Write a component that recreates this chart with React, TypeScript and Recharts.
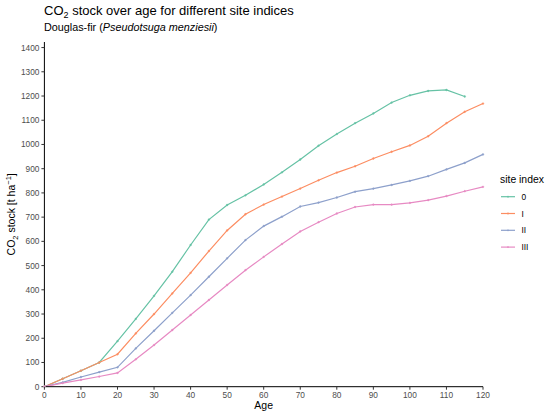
import React from 'react';
import { LineChart, Line, XAxis, YAxis } from 'recharts';

const ages = [0, 5, 10, 15, 20, 25, 30, 35, 40, 45, 50, 55, 60, 65, 70, 75, 80, 85, 90, 95, 100, 105, 110, 115, 120];
const siteIndices = ['0', 'I', 'II', 'III'];
const seriesKeys = ['s0', 's1', 's2', 's3'];
const colors = ['#66C2A5', '#FC8D62', '#8DA0CB', '#E78AC3'];

const stock0 = [0, 33, 66, 100, 188, 280, 375, 475, 585, 690, 750, 790, 835, 885, 938, 995, 1043, 1088, 1128, 1173, 1203, 1221, 1225, 1198, null];
const stockI = [0, 33, 66, 100, 134, 220, 300, 385, 470, 560, 645, 712, 752, 785, 818, 852, 884, 910, 942, 970, 996, 1034, 1088, 1135, 1169];
const stockII = [0, 18, 40, 60, 80, 158, 231, 305, 378, 454, 530, 605, 663, 702, 744, 760, 781, 805, 818, 833, 850, 869, 897, 924, 959];
const stockIII = [0, 15, 28, 42, 57, 113, 172, 234, 296, 358, 420, 481, 536, 589, 641, 679, 715, 742, 752, 752, 759, 770, 787, 807, 825];

const xTicks = [0, 10, 20, 30, 40, 50, 60, 70, 80, 90, 100, 110, 120];
const yTicks = [0, 100, 200, 300, 400, 500, 600, 700, 800, 900, 1000, 1100, 1200, 1300, 1400];

const allSeries = [stock0, stockI, stockII, stockIII];
const data = ages.map((age, i) => {
  const row: Record<string, number | null> = { age };
  seriesKeys.forEach((k, j) => {
    row[k] = allSeries[j][i];
  });
  return row;
});

const FONT = '"Liberation Sans", Arial, Helvetica, sans-serif';

const YLabel = (props: any) => {
  const vb = props.viewBox || { x: 0, y: 42, width: 44, height: 345 };
  const cy = vb.y + vb.height / 2;
  const x = 15.5;
  return (
    <text
      x={x}
      y={cy}
      transform={`rotate(-90, ${x}, ${cy})`}
      textAnchor="middle"
      fontFamily={FONT}
      fontSize={10.5}
      fill="#000"
    >
      CO
      <tspan dy={2.5} fontSize={7.5}>2</tspan>
      <tspan dy={-2.5}> stock [t ha</tspan>
      <tspan dy={-4} fontSize={7.5}>−1</tspan>
      <tspan dy={4}>]</tspan>
    </text>
  );
};

const XLabel = (props: any) => {
  const vb = props.viewBox || { x: 44, y: 387, width: 439, height: 29 };
  return (
    <text x={vb.x + vb.width / 2} y={409} textAnchor="middle" fontFamily={FONT} fontSize={10.5} fill="#000">
      Age
    </text>
  );
};

export default function App() {
  return (
    <div style={{ position: 'absolute', left: 0, top: 0, width: 550, height: 416, background: '#fff' }}>
      <LineChart
        width={550}
        height={416}
        data={data}
        margin={{ top: 42, right: 67, bottom: 0, left: 0 }}
      >
        <XAxis
          dataKey="age"
          type="number"
          domain={[0, 120]}
          ticks={xTicks}
          height={29.3}
          tickSize={3}
          tick={{ fill: '#4D4D4D', fontSize: 8.3, fontFamily: FONT }}
          tickLine={{ stroke: '#333' }}
          axisLine={{ stroke: '#000', strokeWidth: 1 }}
          label={<XLabel />}
        />
        <YAxis
          type="number"
          domain={[0, 1423]}
          ticks={yTicks}
          width={44.4}
          tickSize={3}
          interval={0}
          tick={{ fill: '#4D4D4D', fontSize: 8.3, fontFamily: FONT }}
          tickLine={{ stroke: '#333' }}
          axisLine={{ stroke: '#000', strokeWidth: 1 }}
          allowDataOverflow
          label={<YLabel />}
        />
        {seriesKeys.map((k, j) => (
          <Line
            key={k}
            dataKey={k}
            name={siteIndices[j]}
            type="linear"
            stroke={colors[j]}
            strokeWidth={1.2}
            dot={{ r: 0.9, fill: colors[j], stroke: colors[j], strokeWidth: 0.4 }}
            activeDot={false}
            isAnimationActive={false}
          />
        ))}
      </LineChart>
      <svg
        width={550}
        height={416}
        style={{ position: 'absolute', left: 0, top: 0, pointerEvents: 'none' }}
      >
        <text x={44} y={15} fontFamily={FONT} fontSize={13} fill="#000">
          CO
          <tspan dy={3} fontSize={9}>2</tspan>
          <tspan dy={-3}> stock over age for different site indices</tspan>
        </text>
        <text x={44} y={31} fontFamily={FONT} fontSize={10.8} fill="#000">
          Douglas-fir (<tspan fontStyle="italic">Pseudotsuga menziesii</tspan>)
        </text>
        <text x={500} y={182.5} fontFamily={FONT} fontSize={10.4} fill="#000">
          site index
        </text>
        {siteIndices.map((s, j) => {
          const y = 196.7 + j * 16.8;
          return (
            <g key={s}>
              <line x1={501} x2={515} y1={y} y2={y} stroke={colors[j]} strokeWidth={1.2} />
              <circle cx={508} cy={y} r={0.9} fill={colors[j]} />
              <text x={521.5} y={y + 3} fontFamily={FONT} fontSize={8.3} fill="#000">
                {s}
              </text>
            </g>
          );
        })}
      </svg>
    </div>
  );
}
